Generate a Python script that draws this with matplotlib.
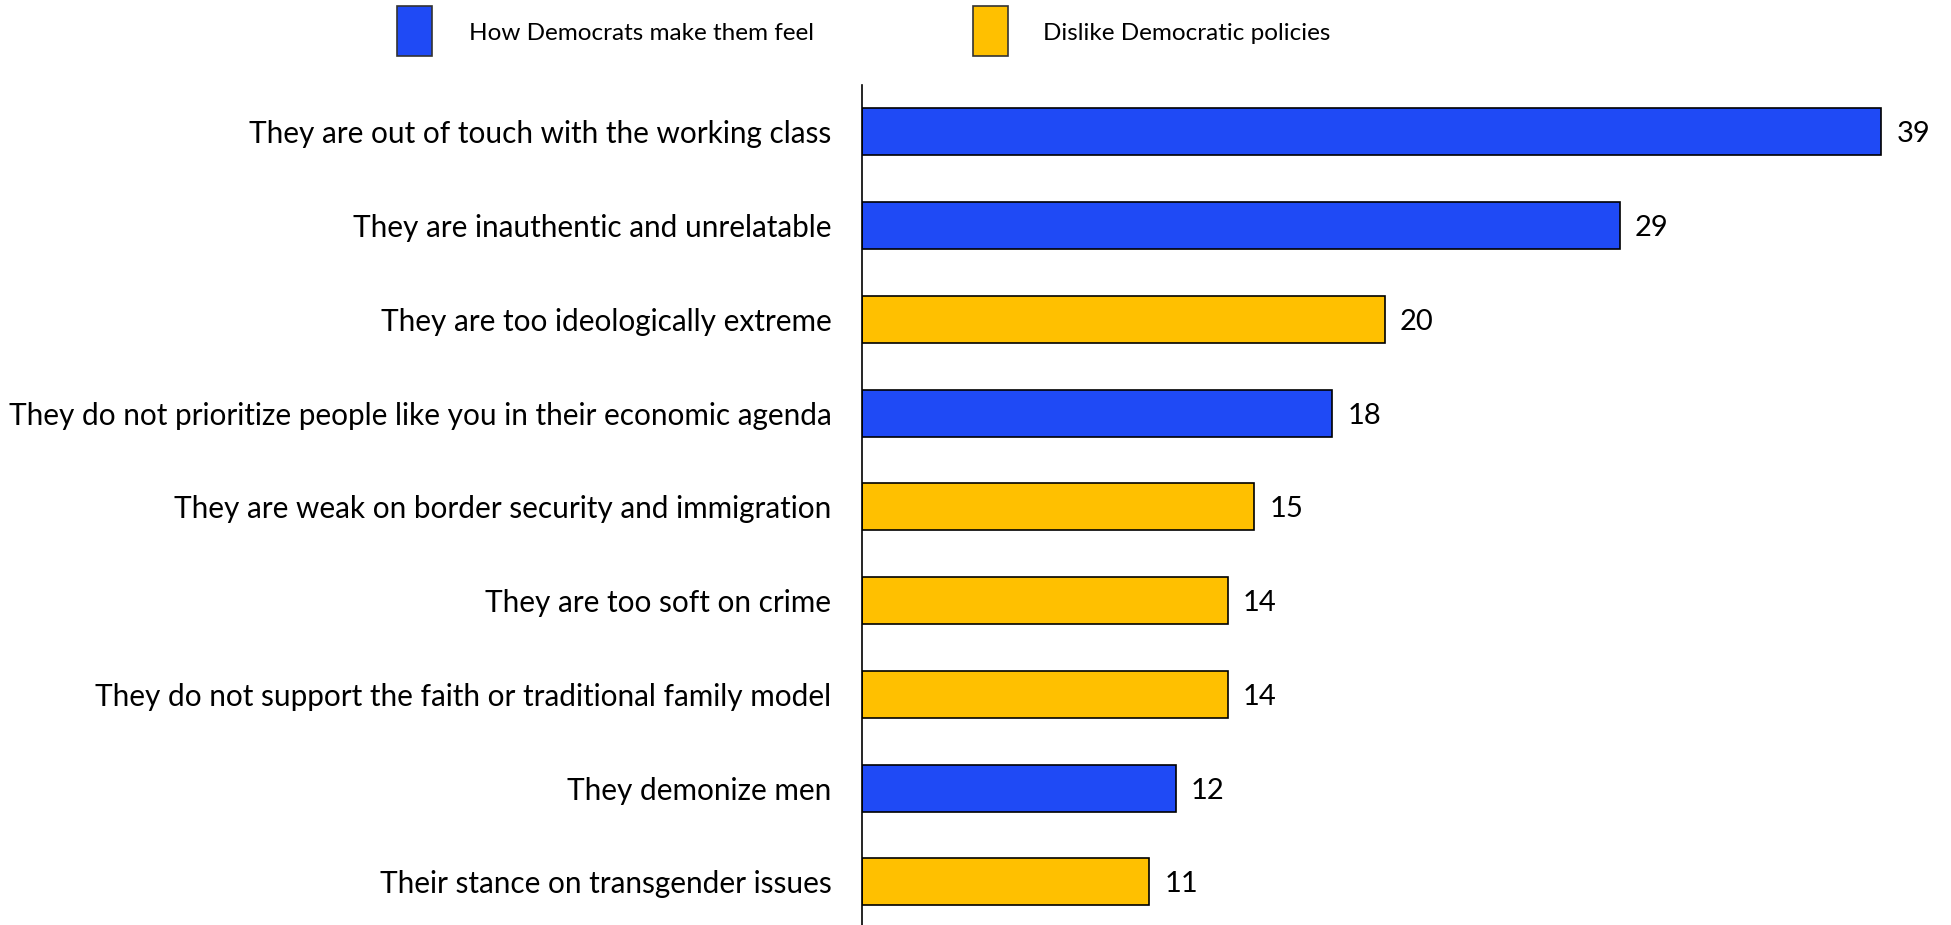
import matplotlib.pyplot as plt
from matplotlib.patches import Rectangle

plt.rcParams['font.family'] = ['Lato', 'DejaVu Sans']

reasons = [
    'They are out of touch with the working class',
    'They are inauthentic and unrelatable',
    'They are too ideologically extreme',
    'They do not prioritize people like you in their economic agenda',
    'They are weak on border security and immigration',
    'They are too soft on crime',
    'They do not support the faith or traditional family model',
    'They demonize men',
    'Their stance on transgender issues',
]
values = [39, 29, 20, 18, 15, 14, 14, 12, 11]
groups = ['feel', 'feel', 'policy', 'feel', 'policy', 'policy', 'policy', 'feel', 'policy']

group_names = {'feel': 'How Democrats make them feel', 'policy': 'Dislike Democratic policies'}
group_colors = {'feel': '#1F4AF5', 'policy': '#FFC000'}

fig = plt.figure(figsize=(19.51, 9.25), dpi=100)
ax = fig.add_axes([862 / 1951, 0.0, 1 - 862 / 1951, 1 - 85 / 925])

ypos = list(range(len(reasons)))
bars = ax.barh(ypos, values, height=0.5,
               color=[group_colors[g] for g in groups],
               edgecolor='black', linewidth=1.2)

for bar, v in zip(bars, values):
    ax.annotate(str(v), (bar.get_width(), bar.get_y() + bar.get_height() / 2),
                xytext=(11, 0), textcoords='offset points',
                va='center_baseline', ha='left', fontsize=21)

ax.set_yticks(ypos)
ax.set_yticklabels(reasons, fontsize=21.4)
ax.tick_params(axis='y', length=0, pad=22)
ax.set_xticks([])
ax.set_xlim(0, (1951 - 862) / 26.13)
ax.set_ylim(len(reasons) - 0.54, -0.5)
for side in ['top', 'right', 'bottom']:
    ax.spines[side].set_visible(False)
ax.spines['left'].set_linewidth(1.2)

# legend keys drawn as boxes above the plot
for key, x0, tx in [('feel', 397, 469), ('policy', 973, 1043)]:
    fig.patches.append(Rectangle((x0 / 1951, 1 - 56 / 925), 35 / 1951, 50 / 925,
                                 transform=fig.transFigure,
                                 facecolor=group_colors[key], edgecolor='#333333',
                                 linewidth=1.2))
    fig.text(tx / 1951, 1 - 32 / 925, group_names[key], fontsize=17.5,
             va='center_baseline', ha='left')

fig.savefig('out.png')
